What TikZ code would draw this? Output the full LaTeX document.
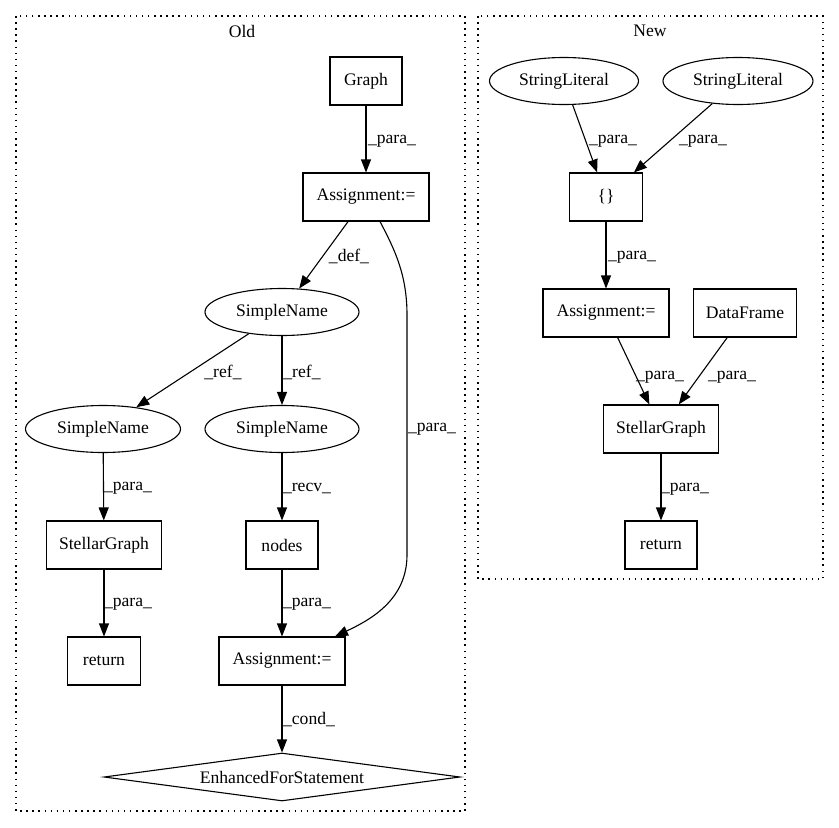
\documentclass[tikz,border=0pt]{standalone}
\usepackage{fontspec}
\setmainfont{Liberation Serif}
\usetikzlibrary{arrows.meta,shapes.geometric}
\begin{document}
\begin{tikzpicture}[x=1pt,y=-1pt,
  every node/.style={font=\fontsize{17.6}{20}\selectfont},
  box/.style={draw,line width=1.1pt,rectangle,inner sep=0pt,minimum height=48pt},
  ell/.style={draw,line width=1.1pt,ellipse,inner sep=0pt,minimum height=47pt},
  dia/.style={draw,line width=1.1pt,diamond,inner sep=0pt,aspect=7.42,minimum width=356pt,minimum height=48pt},
  lbl/.style={inner sep=0pt},
  edge/.style={line width=1.1pt,-{Triangle[length=13pt,width=10pt]}},
  cluster/.style={line width=1.1pt,dash pattern=on 1.5pt off 4.6pt}]
\useasboundingbox (0,0) rectangle (839,828);
% clusters
\draw[cluster] (16,16) rectangle (465,811);
\draw[cluster] (478,16) rectangle (823,579);
\node[lbl] (oldt) at (242,31) {Old};
\node[lbl] (newt) at (650,31) {New};
% Old nodes
\node[box,minimum width=72pt] (graph) at (366,81) {Graph};
\node[box,minimum width=126pt] (asg1) at (366,197) {Assignment:=};
\node[ell,minimum width=154pt] (sn1) at (282,312) {SimpleName};
\node[ell,minimum width=155pt] (sn2) at (103,429) {SimpleName};
\node[ell,minimum width=154pt] (sn3) at (282,429) {SimpleName};
\node[box,minimum width=115pt] (sg1) at (104,545) {StellarGraph};
\node[box,minimum width=72pt] (nodes) at (282,545) {nodes};
\node[box,minimum width=73pt] (ret1) at (104,661) {return};
\node[box,minimum width=126pt] (asg2) at (282,661) {Assignment:=};
\node[dia] (efs) at (282,777) {EnhancedForStatement};
% Old edges
\draw[edge] (graph) -- (asg1);
\node[lbl] (l1) at (392,141) {\_para\_};
\draw[edge] (asg1) -- (sn1);
\node[lbl] (l2) at (349,256) {\_def\_};
\draw[edge] (sn1) -- (sn2);
\node[lbl] (l3) at (223,372) {\_ref\_};
\draw[edge] (sn1) -- (sn3);
\node[lbl] (l4) at (302,372) {\_ref\_};
\draw[edge] ([xshift=14pt]asg1.south) .. controls (395,250) and (407,275) .. (407,315) -- (407,555) .. controls (407,600) and (370,620) .. ([xshift=53pt]asg2.north);
\node[lbl] (l5) at (432,429) {\_para\_};
\draw[edge] (sn2) -- (sg1);
\node[lbl] (l6) at (128,488) {\_para\_};
\draw[edge] (sn3) -- (nodes);
\node[lbl] (l7) at (307,488) {\_recv\_};
\draw[edge] (sg1) -- (ret1);
\node[lbl] (l8) at (128,604) {\_para\_};
\draw[edge] (nodes) -- (asg2);
\node[lbl] (l9) at (307,604) {\_para\_};
\draw[edge] (asg2) -- (efs);
\node[lbl] (l10) at (309,720) {\_cond\_};
% New nodes
\node[ell,minimum width=149pt] (str1) at (564,81) {StringLiteral};
\node[ell,minimum width=150pt] (str2) at (738,81) {StringLiteral};
\node[box,minimum width=73pt] (br) at (606,197) {\{\}};
\node[box,minimum width=126pt] (asg3) at (606,313) {Assignment:=};
\node[box,minimum width=103pt] (df) at (745,313) {DataFrame};
\node[box,minimum width=115pt] (sg2) at (661,429) {StellarGraph};
\node[box,minimum width=72pt] (ret2) at (661,545) {return};
% New edges
\draw[edge] (str1) -- (br);
\node[lbl] (n1) at (613,141) {\_para\_};
\draw[edge] (str2) -- (br);
\node[lbl] (n2) at (703,141) {\_para\_};
\draw[edge] (br) -- (asg3);
\node[lbl] (n3) at (632,257) {\_para\_};
\draw[edge] (asg3) -- (sg2);
\node[lbl] (n4) at (660,377) {\_para\_};
\draw[edge] (df) -- (sg2);
\node[lbl] (n5) at (732,377) {\_para\_};
\draw[edge] (sg2) -- (ret2);
\node[lbl] (n6) at (685,489) {\_para\_};
\end{tikzpicture}
\end{document}
